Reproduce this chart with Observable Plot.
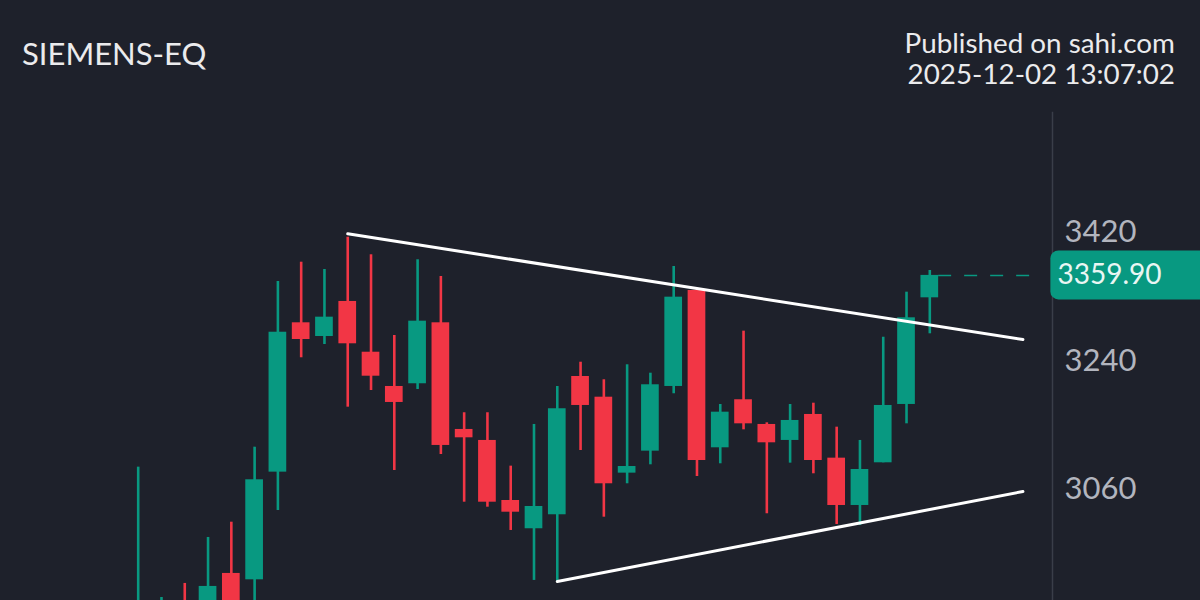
<!DOCTYPE html>
<html>
<head>
<meta charset="utf-8">
<script src="https://cdn.jsdelivr.net/npm/d3@7"></script>
<script src="https://cdn.jsdelivr.net/npm/@observablehq/plot@0.6"></script>
<style>
  html, body { margin: 0; padding: 0; background: #1e212b; overflow: hidden; width: 1200px; height: 600px; }
  #header { position: relative; height: 110px; font-family: Lato, "Open Sans", sans-serif; }
  #title { position: absolute; left: 22px; top: 37.5px; font-size: 31px; line-height: 1; color: #ebebed; }
  #meta { position: absolute; right: 25px; top: 26.5px; font-size: 27.8px; line-height: 31px; color: #ebebed; text-align: right; }
  #chart svg { display: block; }
</style>
</head>
<body>
<div id="header">
  <div id="title">SIEMENS-EQ</div>
  <div id="meta">Published on sahi.com<br>2025-12-02 13:07:02</div>
</div>
<div id="chart"></div>
<script>
// Daily candles (first few bars run below the visible area)
const opens  = [2860, 2870, 2900, 2895, 2942.4, 2933.5, 3084.3, 3293.5, 3274.3, 3323.4, 3252.3, 3204.3, 3208.1, 3293.5, 3144.1, 3128.7, 3044.6, 3005.0, 3024.6, 3218.3, 3189.3, 3082.9, 3113.7, 3204.3, 3338.8, 3118.4, 3185.7, 3151.1, 3128.7, 3165.1, 3103.9, 3037.6, 3097.4, 3179.1, 3328.5];
const highs  = [3091.3, 2908.7, 2928.4, 2992.8, 3014.2, 3119.3, 3351.4, 3378.4, 3368.2, 3413.4, 3388.8, 3275.7, 3381.8, 3358.4, 3167.5, 3167.5, 3092.7, 3151.1, 3204.3, 3238.3, 3213.7, 3234.7, 3222.9, 3372.4, 3341.1, 3179.1, 3281.8, 3153.4, 3179.1, 3180.9, 3147.3, 3128.7, 3273.3, 3336.4, 3366.8];
const lows   = [2840, 2860, 2870, 2880, 2885, 2895, 3030.6, 3244.5, 3263.1, 3175.3, 3198.7, 3086.6, 3200.1, 3109.0, 3042.2, 3035.2, 3002.6, 2932.6, 2930.2, 3114.6, 3021.2, 3068.0, 3094.6, 3194.1, 3078.2, 3096.0, 3143.6, 3026.0, 3096.9, 3082.0, 3011.0, 3009.6, 3097.4, 3152.0, 3278.1];
const closes = [2895, 2890, 2880, 2924.2, 2895, 3073.6, 3280.3, 3270.1, 3301.4, 3264.1, 3218.7, 3181.9, 3295.8, 3121.7, 3132.4, 3042.2, 3028.2, 3036.2, 3173.1, 3177.7, 3068.0, 3092.2, 3206.7, 3329.4, 3100.6, 3168.3, 3152.0, 3125.4, 3156.7, 3100.6, 3037.6, 3088.0, 3177.7, 3300.5, 3359.9];

// Price axis ticks
const yTicks = [3060, 3240, 3420];

// Triangle trend lines (bar index, price)
const upperTrend = [{i: 9, v: 3418.2}, {i: 38, v: 3270.1}];
const lowerTrend = [{i: 18, v: 2931.2}, {i: 38, v: 3057.2}];

const lastClose = closes[closes.length - 1];

const UP = "#089981", DOWN = "#f23645";
const candles = opens.map((o, i) => ({i, open: o, high: highs[i], low: lows[i], close: closes[i]}));
const col = d => d.close >= d.open ? UP : DOWN;

const chart = Plot.plot({
  width: 1200,
  height: 490,
  marginTop: 2,
  marginRight: 148,
  marginBottom: 0,
  marginLeft: 0,
  style: {background: "transparent", fontFamily: "Lato, 'Open Sans', sans-serif", fontSize: "31px", color: "#b2b5be", overflow: "hidden"},
  x: {type: "linear", domain: [0, 34], range: [137.7, 929.3], axis: null},
  y: {domain: [2904.5, 3590.9], range: [490, 0], axis: null},
  marks: [
    Plot.frame({anchor: "right", stroke: "#3a3e49", strokeWidth: 1.5}),
    Plot.axisY({anchor: "right", ticks: yTicks, tickSize: 0, tickPadding: 12, tickFormat: d3.format("d"), fill: "#b2b5be", fontSize: 31}),
    Plot.ruleX(candles, {x: "i", y1: "low", y2: "high", stroke: col, strokeWidth: 2.6}),
    Plot.rect(candles, {x1: d => d.i - 0.38, x2: d => d.i + 0.38, y1: "open", y2: "close", fill: col}),
    Plot.line(upperTrend, {x: "i", y: "v", stroke: "#ffffff", strokeWidth: 3}),
    Plot.line(lowerTrend, {x: "i", y: "v", stroke: "#ffffff", strokeWidth: 3}),
    Plot.ruleY([lastClose], {x1: 34.38, x2: 38.62, stroke: UP, strokeWidth: 1.5, strokeDasharray: "13,13"}),
    Plot.rect([lastClose], {x1: 39.2, x2: 50, y1: d => d - 34.3, y2: d => d + 34.3, fill: UP, rx: 8}),
    Plot.text([lastClose], {y: d => d, frameAnchor: "right", textAnchor: "start", dx: 5, text: d => d.toFixed(2), fill: "#eaf6f3", fontSize: 28})
  ]
});
document.getElementById("chart").appendChild(chart);
</script>
</body>
</html>
